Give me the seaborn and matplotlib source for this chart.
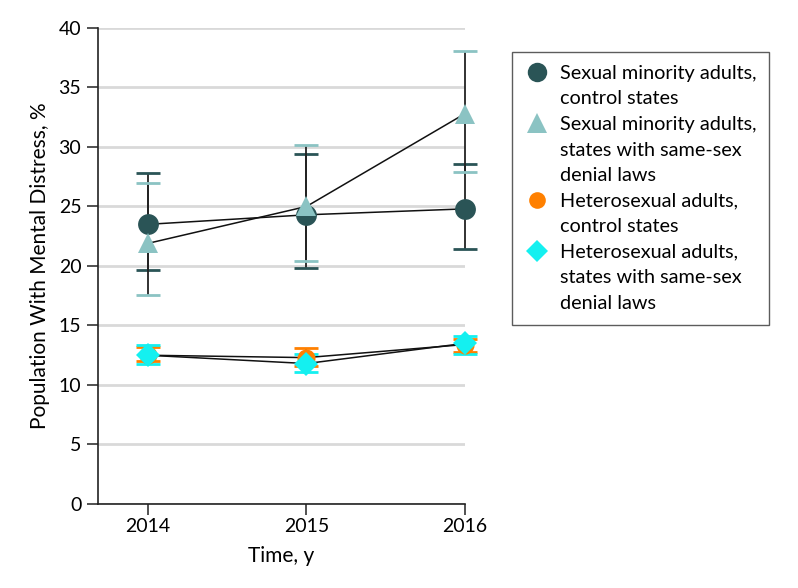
import numpy as np
import pandas as pd
import matplotlib
matplotlib.use('Agg')
import matplotlib.pyplot as plt
import seaborn as sns
from matplotlib.lines import Line2D

# valores
anos = [2014, 2015, 2016]
grupos = [
    'Sexual minority adults,\ncontrol states',
    'Sexual minority adults,\nstates with same-sex\ndenial laws',
    'Heterosexual adults,\ncontrol states',
    'Heterosexual adults,\nstates with same-sex\ndenial laws',
]
min_ctrl = [23.5, 24.3, 24.8]
min_ctrl_lo = [19.7, 19.8, 21.4]
min_ctrl_hi = [27.8, 29.4, 28.6]

min_neg = [21.9, 25.0, 32.8]
min_neg_lo = [17.6, 20.4, 27.9]
min_neg_hi = [27.0, 30.2, 38.1]

het_ctrl = [12.5, 12.3, 13.4]
het_ctrl_lo = [12.0, 11.6, 12.8]
het_ctrl_hi = [13.2, 13.1, 13.9]

het_neg = [12.5, 11.8, 13.5]
het_neg_lo = [11.8, 11.1, 12.6]
het_neg_hi = [13.4, 12.6, 14.1]

cores = ['#2a5456', '#8bc3c3', '#ff8000', '#14f0f0']
marcadores = ['o', '^', 'o', 'D']
tamanhos = [15, 15, 13, 12]

sns.set_style('white')
plt.rcParams['font.family'] = ['Lato', 'DejaVu Sans']
plt.rcParams['text.color'] = 'black'
plt.rcParams['axes.labelcolor'] = 'black'
plt.rcParams['xtick.color'] = 'black'
plt.rcParams['ytick.color'] = 'black'

fig = plt.figure(figsize=(7.98, 5.88), dpi=100)
ax = fig.add_axes([0.1228, 0.1429, 0.4599, 0.8095])

series = [
    (min_ctrl, min_ctrl_lo, min_ctrl_hi),
    (min_neg, min_neg_lo, min_neg_hi),
    (het_ctrl, het_ctrl_lo, het_ctrl_hi),
    (het_neg, het_neg_lo, het_neg_hi),
]

linhas = []
for g, (v, lo, hi) in zip(grupos, series):
    for a, vi, l, h in zip(anos, v, lo, hi):
        linhas.append({'ano': a, 'grupo': g, 'valor': vi, 'lo': l, 'hi': h})
df = pd.DataFrame(linhas)

for ordem, g in enumerate(grupos):
    d = df[df['grupo'] == g]
    yerr = [d['valor'] - d['lo'], d['hi'] - d['valor']]
    _, caps, barras = ax.errorbar(d['ano'], d['valor'], yerr=yerr, fmt='none',
                                  ecolor=cores[ordem], capsize=8.5, capthick=2,
                                  elinewidth=1.3, zorder=2 + ordem)
    for b in barras:
        b.set_color('#222222')
        b.set_clip_on(False)
    for c in caps:
        c.set_clip_on(False)
    sns.lineplot(data=d, x='ano', y='valor', color='#111111', linewidth=1.1,
                 ax=ax, zorder=2 + ordem, legend=False)
    ax.plot(d['ano'], d['valor'], linestyle='none', marker=marcadores[ordem],
            markersize=tamanhos[ordem], color=cores[ordem], markeredgewidth=0,
            zorder=6 + ordem, clip_on=False)

ax.set_xlim(2013.685, 2016.0)
ax.set_ylim(0, 40)
ax.set_xticks(anos)
ax.set_yticks(np.arange(0, 41, 5))
ax.yaxis.grid(True, color='#d9d9d9', linewidth=2)
ax.set_axisbelow(True)
for s in ['top', 'right']:
    ax.spines[s].set_visible(False)
for s in ['left', 'bottom']:
    ax.spines[s].set_color('#222222')
    ax.spines[s].set_linewidth(1.2)
ax.tick_params(axis='both', direction='out', length=8, width=1.1, color='#222222',
               labelsize=14, left=True, bottom=True, pad=4)
ax.tick_params(axis='x', pad=2)
ax.set_xlabel('Time, y', fontsize=15, labelpad=8)
ax.set_ylabel('Population With Mental Distress, %', fontsize=15, labelpad=6)

# legenda: uma linha de texto por entrada, marcador so na primeira linha do grupo
handles, rotulos = [], []
for g, m, t, c in zip(grupos, marcadores, tamanhos, cores):
    for i, parte in enumerate(g.split('\n')):
        if i == 0:
            handles.append(Line2D([], [], linestyle='none', marker=m,
                                  markersize=t - 1, color=c, markeredgewidth=0))
        else:
            handles.append(Line2D([], [], linestyle='none'))
        rotulos.append(parte)

leg = fig.legend(handles, rotulos, loc='upper left',
                 bbox_to_anchor=(512 / 798, 1 - 52 / 588), borderaxespad=0,
                 frameon=True, fancybox=False, edgecolor='#333333',
                 fontsize=14.3, handletextpad=0.55, labelspacing=0.43,
                 borderpad=0.65, handlelength=1.2)
leg.get_frame().set_linewidth(1.0)

fig.savefig('out.png', dpi=100)
